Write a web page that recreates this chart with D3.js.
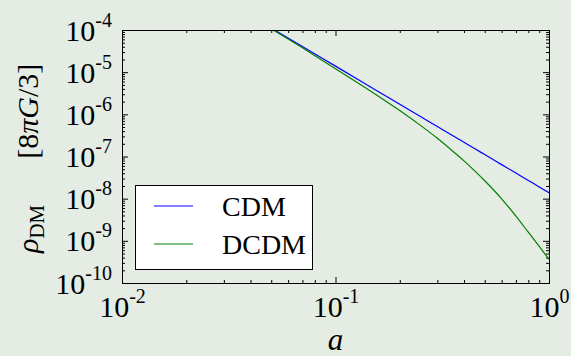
<!DOCTYPE html>
<html>
<head>
<meta charset="utf-8">
<script src="https://cdn.jsdelivr.net/npm/d3@7"></script>
<style>
  body { margin: 0; background: #e4ece3; }
  svg { display: block; }
  svg text { font-family: "Liberation Serif", "Times New Roman", serif; fill: #000; }
</style>
</head>
<body>
<div id="chart"></div>
<script>
// scale factor a, and the two densities
const aValues    = [0.05, 0.07, 0.1, 0.15, 0.2, 0.25, 0.3, 0.35, 0.4, 0.45, 0.5, 0.6, 0.7, 0.8, 0.9, 1.0];
const cdmValues  = [1.11e-4, 4.04e-5, 1.39e-5, 4.11e-6, 1.73e-6, 8.87e-7, 5.14e-7, 3.24e-7, 2.17e-7, 1.52e-7, 1.11e-7, 6.42e-8, 4.04e-8, 2.71e-8, 1.90e-8, 1.39e-8];
const dcdmValues = [1.07e-4, 3.78e-5, 1.21e-5, 3.27e-6, 1.23e-6, 5.47e-7, 2.70e-7, 1.41e-7, 7.87e-8, 4.49e-8, 2.66e-8, 9.94e-9, 3.86e-9, 1.60e-9, 7.40e-10, 3.65e-10];
const seriesNames  = ["CDM", "DCDM"];
const seriesColors = ["#0000ff", "#008000"];
const xTickExps = [-2, -1, 0];
const yTickExps = [-10, -9, -8, -7, -6, -5, -4];

const w = 571, h = 356;
const pLeft = 122, pRight = 549, pTop = 30, pBottom = 283;

const svg = d3.select("#chart").append("svg")
  .attr("width", w)
  .attr("height", h);

svg.append("rect").attr("width", w).attr("height", h).attr("fill", "#e4ece3");

const x = d3.scaleLog().domain([1e-2, 1]).range([pLeft, pRight]);
const y = d3.scaleLog().domain([1e-10, 1e-4]).range([pBottom, pTop]);

const isMajor = v => Math.abs(Math.log10(v) - Math.round(Math.log10(v))) < 1e-6;
const xMinor = x.ticks().filter(v => !isMajor(v));
const yMinor = y.ticks().filter(v => !isMajor(v));
const xMajor = xTickExps.map(e => Math.pow(10, e));
const yMajor = yTickExps.map(e => Math.pow(10, e));

// ticks pointing inward on all four sides
function tickAxis(axisFn, scale, values, size, tx, ty) {
  const g = svg.append("g")
    .attr("transform", `translate(${tx},${ty})`)
    .call(axisFn(scale).tickValues(values).tickSize(-size).tickFormat(() => ""));
  g.select(".domain").remove();
  g.attr("font-family", null).attr("font-size", null);
  g.selectAll(".tick line").attr("stroke", "#000").attr("stroke-width", 1);
  return g;
}
tickAxis(d3.axisBottom, x, xMinor, 3, 0, pBottom);
tickAxis(d3.axisTop, x, xMinor, 3, 0, pTop);
tickAxis(d3.axisLeft, y, yMinor, 3, pLeft, 0);
tickAxis(d3.axisRight, y, yMinor, 3, pRight, 0);
const xAxisG = tickAxis(d3.axisBottom, x, xMajor, 6, 0, pBottom);
tickAxis(d3.axisTop, x, xMajor, 6, 0, pTop);
const yAxisG = tickAxis(d3.axisLeft, y, yMajor, 6, pLeft, 0);
tickAxis(d3.axisRight, y, yMajor, 6, pRight, 0);

// power-of-ten labels
function powLabel(sel) {
  sel.each(function(d) {
    const t = d3.select(this).text(null)
      .attr("font-size", 30);
    t.append("tspan").text("10");
    t.append("tspan").attr("font-size", 20).attr("dy", -14)
      .text(Math.round(Math.log10(d)).toString());
  });
}
xAxisG.selectAll(".tick text")
  .attr("y", 34).attr("dy", null)
  .attr("text-anchor", "middle")
  .call(powLabel);
yAxisG.selectAll(".tick text")
  .attr("x", -10).attr("dy", null).attr("y", 10)
  .attr("text-anchor", "end")
  .call(powLabel);

// curves
svg.append("clipPath").attr("id", "clip")
  .append("rect").attr("x", pLeft).attr("y", pTop)
  .attr("width", pRight - pLeft).attr("height", pBottom - pTop);

const line = d3.line()
  .x(d => x(d[0]))
  .y(d => y(d[1]))
  .curve(d3.curveMonotoneX);

[cdmValues, dcdmValues].forEach((vals, i) => {
  svg.append("path")
    .datum(aValues.map((a, j) => [a, vals[j]]))
    .attr("clip-path", "url(#clip)")
    .attr("fill", "none")
    .attr("stroke", seriesColors[i])
    .attr("stroke-width", 1.2)
    .attr("d", line);
});

// frame
svg.append("rect")
  .attr("x", pLeft + 0.5).attr("y", pTop + 0.5)
  .attr("width", pRight - pLeft).attr("height", pBottom - pTop)
  .attr("fill", "none").attr("stroke", "#000").attr("stroke-width", 1);

// legend
const legend = svg.append("g");
legend.append("rect")
  .attr("x", 135.5).attr("y", 185.5).attr("width", 177).attr("height", 84)
  .attr("fill", "#fff").attr("stroke", "#000").attr("stroke-width", 1);
seriesNames.forEach((name, i) => {
  const ly = 206 + i * 38;
  legend.append("line")
    .attr("x1", 154).attr("x2", 193).attr("y1", ly).attr("y2", ly)
    .attr("stroke", seriesColors[i]).attr("stroke-width", 1.2);
  legend.append("text")
    .attr("x", 222).attr("y", ly + 10)
    .attr("font-size", 28)
    .text(name);
});

// axis titles
svg.append("text")
  .attr("x", (pLeft + pRight) / 2).attr("y", 350)
  .attr("text-anchor", "middle")
  .attr("font-size", 31).attr("font-style", "italic")
  .text("a");

const ylab = svg.append("text")
  .attr("transform", "translate(38,253) rotate(-90)")
  .attr("font-size", 30);
ylab.append("tspan").attr("font-style", "italic").text("ρ");
ylab.append("tspan").attr("font-size", 21).attr("dy", 6).text("DM");
ylab.append("tspan").attr("dy", -6).attr("dx", 46).text("[8");
ylab.append("tspan").attr("font-style", "italic").text("πG");
ylab.append("tspan").text("/3]");
</script>
</body>
</html>
